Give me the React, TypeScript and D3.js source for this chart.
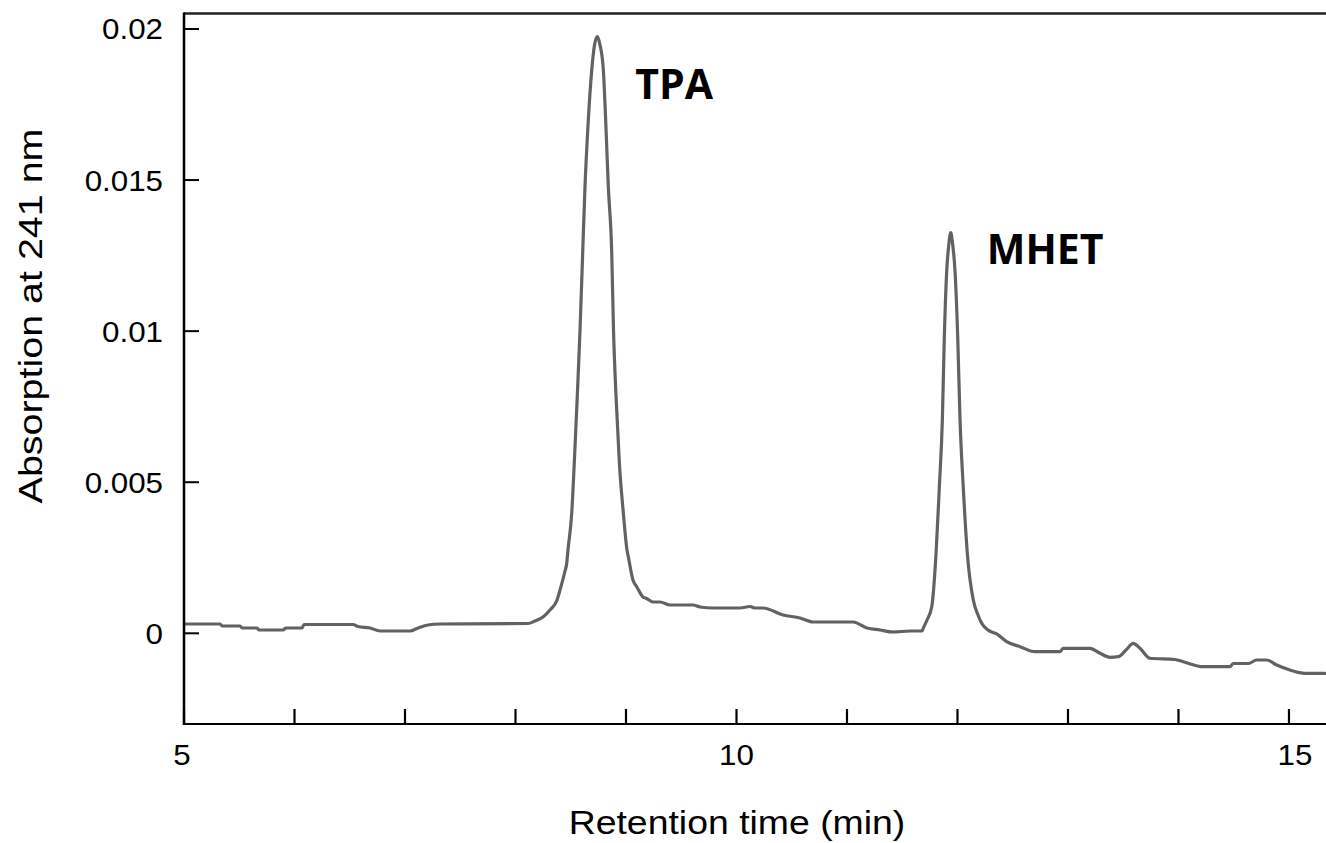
import React from "react";
import * as d3 from "d3";

const retentionTime: number[] = [
  5.0, 5.326, 5.344, 5.507, 5.525, 5.661, 5.679, 5.896, 5.923, 6.068, 6.086, 6.529, 6.575, 6.683, 6.774, 7.045,
  7.118, 7.208, 7.317, 8.113, 8.176, 8.249, 8.312, 8.376, 8.403, 8.448, 8.464, 8.475, 8.509, 8.532, 8.559, 8.584,
  8.608, 8.629, 8.659, 8.69, 8.715, 8.74, 8.765, 8.795, 8.816, 8.84, 8.871, 8.887, 8.91, 8.94, 8.976, 9.009,
  9.021, 9.063, 9.097, 9.154, 9.187, 9.244, 9.308, 9.398, 9.606, 9.67, 9.787, 10.032, 10.122, 10.167, 10.24,
  10.421, 10.575, 10.692, 11.054, 11.181, 11.299, 11.416, 11.57, 11.679, 11.69, 11.724, 11.767, 11.806, 11.836,
  11.863, 11.881, 11.903, 11.921, 11.939, 11.957, 11.977, 12.002, 12.023, 12.052, 12.089, 12.143, 12.186, 12.219,
  12.276, 12.355, 12.445, 12.566, 12.701, 12.928, 12.955, 13.199, 13.29, 13.38, 13.455, 13.525, 13.591, 13.652,
  13.742, 13.968, 14.043, 14.224, 14.466, 14.496, 14.632, 14.708, 14.798, 14.889, 15.009, 15.145, 15.335,
];

const absorbance: number[] = [
  0.000308, 0.000308, 0.000242, 0.000242, 0.000175, 0.000175, 0.000109, 0.000109, 0.000175, 0.000175, 0.000291,
  0.000291, 0.000225, 0.000175, 0.000076, 0.000076, 0.000175, 0.000275, 0.000308, 0.000324, 0.000407, 0.000539,
  0.000771, 0.001102, 0.001433, 0.002062, 0.002327, 0.002757, 0.003981, 0.005636, 0.007831, 0.010038, 0.012586,
  0.014781, 0.016988, 0.018643, 0.01947, 0.019745, 0.01947, 0.018643, 0.016988, 0.014781, 0.012586, 0.010038,
  0.007831, 0.005636, 0.003981, 0.002757, 0.002535, 0.001764, 0.001542, 0.001201, 0.001152, 0.001036, 0.001036,
  0.000937, 0.000937, 0.00087, 0.000837, 0.000837, 0.000887, 0.000837, 0.000837, 0.000606, 0.000506, 0.000374,
  0.000374, 0.000175, 0.000109, 0.000043, 0.000076, 0.000076, 0.000165, 0.00044, 0.00088, 0.002648, 0.004852,
  0.007059, 0.009816, 0.012024, 0.012851, 0.013258, 0.012851, 0.012024, 0.009816, 0.007059, 0.004852, 0.002648,
  0.001102, 0.000606, 0.000331, 0.000109, -0.000023, -0.000278, -0.000443, -0.000609, -0.000609, -0.000496,
  -0.000496, -0.000662, -0.000794, -0.000774, -0.000553, -0.000331, -0.000496, -0.000827, -0.000867, -0.00094,
  -0.001105, -0.001105, -0.000999, -0.000999, -0.000884, -0.000884, -0.001049, -0.001215, -0.001324, -0.00133,
];

const yTickValues: number[] = [0, 0.005, 0.01, 0.015, 0.02];
const yTickLabels: string[] = ["0", "0.005", "0.01", "0.015", "0.02"];
const xMinorTicks: number[] = [5, 6, 7, 8, 9, 10, 11, 12, 13, 14, 15];
const xLabelTicks: number[] = [5, 10, 15];

const peakNames: string[] = ["TPA", "MHET"];
const peakTimes: number[] = [8.74, 11.939];
const peakHeights: number[] = [0.019745, 0.013258];

const W = 1326;
const H = 843;
const left = 184;
const right = 1326;
const top = 14;
const bottom = 724;

export default function App() {
  const x = d3.scaleLinear().domain([5, 15.335]).range([left, right]);
  const y = d3.scaleLinear().domain([-0.003002, 0.020496]).range([bottom, top]);
  const pts = retentionTime.map((t, i) => [t, absorbance[i]] as [number, number]);
  const line = d3
    .line<[number, number]>()
    .x((d) => x(d[0]))
    .y((d) => y(d[1]))
    .curve(d3.curveMonotoneX);
  const font = "'Liberation Sans', Arial, sans-serif";
  const labelOffsets = [
    [38, 62],
    [36, 31],
  ];
  return (
    <svg
      width={W}
      height={H}
      style={{ position: "absolute", left: 0, top: 0, display: "block", background: "#fff" }}
    >
      <defs>
        <clipPath id="plotclip">
          <rect x={left} y={top} width={right - left} height={bottom - top} />
        </clipPath>
      </defs>
      <path
        d={line(pts) || ""}
        fill="none"
        stroke="#626262"
        strokeWidth={3.2}
        strokeLinejoin="round"
        clipPath="url(#plotclip)"
      />
      {/* frame */}
      <line x1={left} x2={right} y1={top - 0.5} y2={top - 0.5} stroke="#222" strokeWidth={2.5} />
      <line x1={left} x2={left} y1={top - 1.5} y2={bottom + 1} stroke="#000" strokeWidth={2.5} />
      <line x1={left} x2={right} y1={bottom} y2={bottom} stroke="#000" strokeWidth={2} />
      {/* y ticks */}
      {yTickValues.map((v, i) => (
        <g key={"y" + i}>
          <line x1={left} x2={left + 15} y1={y(v)} y2={y(v)} stroke="#000" strokeWidth={2} />
          <text
            x={0}
            y={0}
            transform={`translate(${163},${y(v) + 10.5}) scale(1.08,1)`}
            textAnchor="end"
            fontFamily={font}
            fontSize={29}
            fill="#000"
          >
            {yTickLabels[i]}
          </text>
        </g>
      ))}
      {/* x ticks */}
      {xMinorTicks.map((v, i) => (
        <line key={"xt" + i} x1={x(v)} x2={x(v)} y1={bottom} y2={bottom - 15} stroke="#000" strokeWidth={2.2} />
      ))}
      {xLabelTicks.map((v, i) => (
        <text
          key={"xl" + i}
          x={0}
          y={0}
          transform={`translate(${x(v) + (v === 15 ? 6 : v === 5 ? -2 : 0)},${765}) scale(1.08,1)`}
          textAnchor="middle"
          fontFamily={font}
          fontSize={29}
          fill="#000"
        >
          {v}
        </text>
      ))}
      {/* axis titles */}
      <text
        x={0}
        y={0}
        transform={`translate(${737},${834}) scale(1.1,1)`}
        textAnchor="middle"
        fontFamily={font}
        fontSize={34}
        fill="#000"
      >
        Retention time (min)
      </text>
      <text
        x={0}
        y={0}
        transform={`translate(${42},${316}) rotate(-90) scale(1.16,1)`}
        textAnchor="middle"
        fontFamily={font}
        fontSize={34}
        fill="#000"
      >
        Absorption at 241 nm
      </text>
      {/* peak labels */}
      {peakNames.map((n, i) => (
        <text
          key={"p" + i}
          x={x(peakTimes[i]) + labelOffsets[i][0]}
          y={y(peakHeights[i]) + labelOffsets[i][1]}
          fontFamily="'Open Sans', 'Noto Sans', sans-serif"
          fontWeight={700}
          fontSize={41}
          fill="#000"
        >
          {n}
        </text>
      ))}
    </svg>
  );
}
